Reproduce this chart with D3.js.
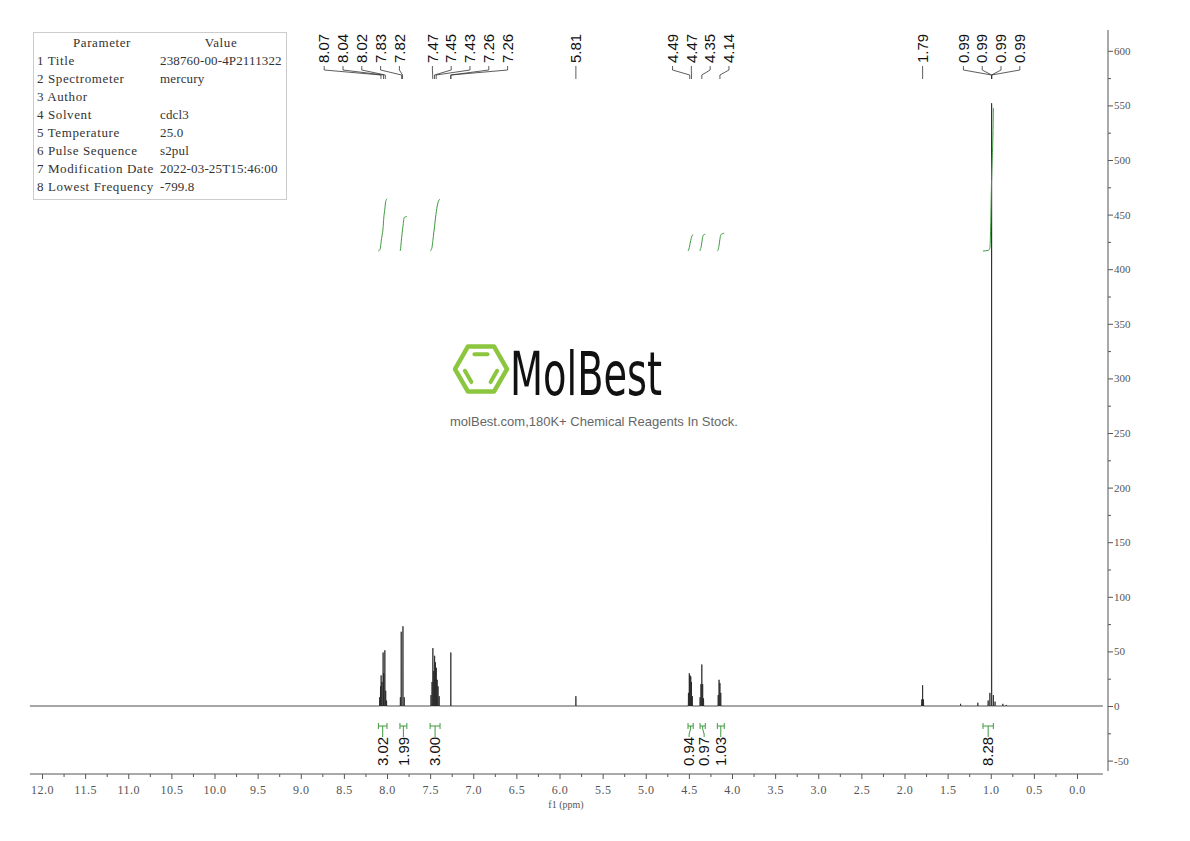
<!DOCTYPE html>
<html>
<head>
<meta charset="utf-8">
<script src="https://cdn.jsdelivr.net/npm/d3@7"></script>
<style>
body { margin: 0; background: #fff; }
svg { display: block; }
</style>
</head>
<body>
<div id="chart"></div>
<script>
// peak list: position (ppm) and intensity
var peakPpm = [
	8.085, 8.075, 8.068, 8.058, 8.045, 8.038, 8.025, 8.015, 8.005,
	7.845, 7.835, 7.815, 7.800,
	7.490, 7.478, 7.468, 7.458, 7.448, 7.438, 7.428, 7.418, 7.408, 7.395,
	7.26,
	5.81,
	4.505, 4.495, 4.487, 4.478, 4.470, 4.460,
	4.370, 4.360, 4.350, 4.340, 4.330,
	4.160, 4.150, 4.140, 4.130,
	1.80, 1.79, 1.78,
	1.35, 1.15, 1.03, 1.01, 0.99, 0.97, 0.95, 0.86, 0.82
];
var peakHeight = [
	8, 18, 28, 22, 49, 30, 51, 14, 5,
	8, 68, 73, 8,
	10, 22, 53, 32, 46, 40, 35, 24, 18, 9,
	49,
	9,
	12, 30, 28, 27, 22, 9,
	8, 20, 38, 20, 7,
	10, 24, 21, 12,
	6, 19, 6,
	2, 3, 5, 12, 552, 10, 4, 2, 1
];

// peak picking labels and which bracket they share
var labelText = ["8.07", "8.04", "8.02", "7.83", "7.82",
	"7.47", "7.45", "7.43", "7.26", "7.26",
	"5.81",
	"4.49", "4.47", "4.35", "4.14",
	"1.79",
	"0.99", "0.99", "0.99", "0.99"];
var labelGroup = [0, 0, 0, 0, 0, 1, 1, 1, 1, 1, 2, 3, 3, 3, 3, 4, 5, 5, 5, 5];

// integration regions
var intStart = [8.10, 7.85, 7.50, 4.51, 4.37, 4.17, 1.09];
var intEnd = [8.00, 7.77, 7.385, 4.45, 4.31, 4.09, 0.97];
var intValue = ["3.02", "1.99", "3.00", "0.94", "0.97", "1.03", "8.28"];

// axis ticks
var xMajor = d3.range(0, 12.01, 0.5);
var xMinor = d3.range(0.25, 12.2, 0.5);
var yMajor = d3.range(-50, 601, 50);
var yMinor = d3.range(-25, 601, 50);

// parameter table
var paramNames = ["1 Title", "2 Spectrometer", "3 Author", "4 Solvent", "5 Temperature",
	"6 Pulse Sequence", "7 Modification Date", "8 Lowest Frequency"];
var paramValues = ["238760-00-4P2111322", "mercury", "", "cdcl3", "25.0",
	"s2pul", "2022-03-25T15:46:00", "-799.8"];

var W = 1190, H = 841;
var serif = "'Liberation Serif', 'DejaVu Serif', serif";
var sans = "'Liberation Sans', Arial, sans-serif";

var svg = d3.select("#chart").append("svg")
	.attr("width", W)
	.attr("height", H);

var x = d3.scaleLinear().domain([12, 0]).range([42, 1077]);
var y = d3.scaleLinear().domain([0, 600]).range([706, 50.8]);
var yInt = d3.scaleLinear().domain([0, 10]).range([251, 78]);

var xLeft = x(12.14), xRight = x(-0.30);
var axisY = 774, axisX = 1108;

// ---- bottom axis
var gx = svg.append("g").attr("transform", "translate(0," + axisY + ")");
gx.append("line")
	.attr("x1", xLeft).attr("x2", xRight)
	.attr("stroke", "#555");
gx.append("g")
	.call(d3.axisBottom(x).tickValues(xMajor).tickFormat(d3.format(".1f")).tickSize(5).tickPadding(6))
	.call(function(g) { g.select(".domain").remove(); });
gx.append("g")
	.call(d3.axisBottom(x).tickValues(xMinor).tickFormat("").tickSize(3))
	.call(function(g) { g.select(".domain").remove(); });
gx.selectAll(".tick line").attr("stroke", "#555");
gx.selectAll(".tick text")
	.attr("fill", "#555")
	.style("font-family", serif)
	.style("font-size", "12px")
	.style("letter-spacing", "0.5px");
svg.append("text")
	.attr("x", 566).attr("y", 808)
	.attr("text-anchor", "middle")
	.attr("fill", "#555")
	.style("font-family", serif)
	.style("font-size", "10px")
	.text("f1 (ppm)");

// ---- right axis
var gy = svg.append("g").attr("transform", "translate(" + axisX + ",0)");
gy.append("line")
	.attr("y1", y(-59.5)).attr("y2", y(619))
	.attr("stroke", "#555");
gy.append("g")
	.call(d3.axisRight(y).tickValues(yMajor).tickFormat(function(d) { return String(d); }).tickSize(5).tickPadding(1))
	.call(function(g) { g.select(".domain").remove(); });
gy.append("g")
	.call(d3.axisRight(y).tickValues(yMinor).tickFormat("").tickSize(3))
	.call(function(g) { g.select(".domain").remove(); });
gy.selectAll(".tick line").attr("stroke", "#555");
gy.selectAll(".tick text")
	.attr("fill", "#555")
	.style("font-family", serif)
	.style("font-size", "11px");

// ---- spectrum: each line drawn as a narrow spike on the baseline
var hw = 0.002;
var order = d3.range(peakPpm.length).sort(function(a, b) { return peakPpm[b] - peakPpm[a]; });
var spec = [[12.14, 0]];
order.forEach(function(i) {
	spec.push([peakPpm[i] + hw, 0]);
	spec.push([peakPpm[i], peakHeight[i]]);
	spec.push([peakPpm[i] - hw, 0]);
});
spec.push([-0.30, 0]);

svg.append("path")
	.datum(spec)
	.attr("fill", "none")
	.attr("stroke", "#222")
	.attr("stroke-width", 0.8)
	.attr("d", d3.line().x(function(d) { return x(d[0]); }).y(function(d) { return y(d[1]); }));

// ---- integral curves and brackets
var green = "#3f9a3f";
var intLabelX = intValue.map(function(v, i) { return x((intStart[i] + intEnd[i]) / 2); });
// keep the rotated integral labels apart
for (var pass = 0; pass < 10; pass++) {
	for (var k = 0; k < intLabelX.length - 1; k++) {
		var gap = intLabelX[k + 1] - intLabelX[k];
		if (gap < 15) {
			intLabelX[k] -= (15 - gap) / 2;
			intLabelX[k + 1] += (15 - gap) / 2;
		}
	}
}

intValue.forEach(function(v, i) {
	var inside = order.filter(function(j) { return peakPpm[j] <= intStart[i] && peakPpm[j] >= intEnd[i]; });
	var total = d3.sum(inside, function(j) { return peakHeight[j]; });
	var cum = 0, pts = [[x(intStart[i]), 0]];
	inside.forEach(function(j) {
		pts.push([x(peakPpm[j]), (cum + peakHeight[j] / 2) / total]);
		cum += peakHeight[j];
	});
	pts.push([x(intEnd[i]), 1]);
	svg.append("path")
		.datum(pts)
		.attr("fill", "none")
		.attr("stroke", green)
		.attr("stroke-width", 1)
		.attr("d", d3.line().curve(d3.curveMonotoneX)
			.x(function(d) { return d[0]; })
			.y(function(d) { return yInt(d[1] * +v); }));

	var x0 = x(intStart[i]), x1 = x(intEnd[i]), cx = (x0 + x1) / 2, lx = intLabelX[i];
	svg.append("path")
		.attr("fill", "none")
		.attr("stroke", green)
		.attr("stroke-width", 1)
		.attr("d", "M" + x0 + ",726H" + x1 +
			"M" + x0 + ",723V729M" + x1 + ",723V729" +
			"M" + cx + ",726V729L" + lx + ",734V737");
	svg.append("text")
		.attr("transform", "translate(" + lx + ",766) rotate(-90)")
		.attr("dy", "0.35em")
		.attr("fill", "#111")
		.style("font-family", sans)
		.style("font-size", "15px")
		.text(v);
});

// ---- peak labels along the top
var step = 18.8, minGap = 33;
var groups = d3.groups(d3.range(labelText.length), function(i) { return labelGroup[i]; });
groups.forEach(function(g) {
	var idx = g[1];
	var c = d3.mean(idx, function(i) { return x(+labelText[i]); });
	g.pos = idx.map(function(i, k) { return c + (k - (idx.length - 1) / 2) * step; });
});
for (var p2 = 0; p2 < 10; p2++) {
	for (var k2 = 0; k2 < groups.length - 1; k2++) {
		var a = groups[k2], b = groups[k2 + 1];
		var d = b.pos[0] - a.pos[a.pos.length - 1];
		if (d < minGap) {
			var s = (minGap - d) / 2;
			a.pos = a.pos.map(function(v) { return v - s; });
			b.pos = b.pos.map(function(v) { return v + s; });
		}
	}
}
groups.forEach(function(g) {
	g[1].forEach(function(i, k) {
		var lx = g.pos[k], px = x(+labelText[i]);
		svg.append("text")
			.attr("transform", "translate(" + lx + ",63) rotate(-90)")
			.attr("dy", "0.35em")
			.attr("fill", "#111")
			.style("font-family", sans)
			.style("font-size", "15px")
			.text(labelText[i]);
		svg.append("path")
			.attr("fill", "none")
			.attr("stroke", "#333")
			.attr("stroke-width", 0.8)
			.attr("d", "M" + lx + ",66V70L" + px + ",75V79");
	});
});

// ---- parameter table
var tbl = svg.append("g")
	.style("font-family", serif)
	.style("font-size", "13px")
	.attr("fill", "#333");
tbl.append("rect")
	.attr("x", 33.5).attr("y", 32.5).attr("width", 253).attr("height", 167)
	.attr("fill", "none").attr("stroke", "#ccc");
tbl.append("text").attr("x", 102).attr("y", 47).attr("text-anchor", "middle").style("letter-spacing", "0.6px").text("Parameter");
tbl.append("text").attr("x", 221).attr("y", 47).attr("text-anchor", "middle").style("letter-spacing", "0.6px").text("Value");
tbl.selectAll(".pn").data(paramNames).enter().append("text")
	.attr("x", 37).attr("y", function(d, i) { return 65 + i * 18; })
	.style("letter-spacing", "0.6px")
	.text(function(d) { return d; });
tbl.selectAll(".pv").data(paramValues).enter().append("text")
	.attr("x", 160).attr("y", function(d, i) { return 65 + i * 18; })
	.style("letter-spacing", "0.15px")
	.text(function(d) { return d; });

// ---- watermark
var logo = svg.append("g");
var cx0 = 481, cy0 = 369, R = 26;
var hex = d3.range(7).map(function(k) {
	var t = k * Math.PI / 3;
	return [cx0 + R * Math.cos(t), cy0 + R * Math.sin(t)];
});
logo.append("path")
	.attr("d", d3.line()(hex) + "Z")
	.attr("fill", "none")
	.attr("stroke", "#8cc63f")
	.attr("stroke-width", 4.5)
	.attr("stroke-linejoin", "round");
[[4, 5], [0, 1], [2, 3]].forEach(function(e) {
	var r = R * 0.66, t0 = e[0] * Math.PI / 3, t1 = e[1] * Math.PI / 3;
	var p0 = [cx0 + r * Math.cos(t0), cy0 + r * Math.sin(t0)];
	var p1 = [cx0 + r * Math.cos(t1), cy0 + r * Math.sin(t1)];
	var m = 0.12;
	logo.append("line")
		.attr("x1", p0[0] + (p1[0] - p0[0]) * m).attr("y1", p0[1] + (p1[1] - p0[1]) * m)
		.attr("x2", p1[0] - (p1[0] - p0[0]) * m).attr("y2", p1[1] - (p1[1] - p0[1]) * m)
		.attr("stroke", "#8cc63f")
		.attr("stroke-width", 4)
		.attr("stroke-linecap", "round");
});
logo.append("text")
	.attr("x", 510).attr("y", 395)
	.attr("textLength", 152)
	.attr("lengthAdjust", "spacingAndGlyphs")
	.attr("fill", "#111")
	.style("font-family", "'DejaVu Sans Condensed', 'DejaVu Sans', sans-serif")
	.style("font-size", "60px")
	.text("MolBest");
logo.append("text")
	.attr("x", 594).attr("y", 426)
	.attr("text-anchor", "middle")
	.attr("fill", "#666")
	.style("font-family", sans)
	.style("font-size", "13px")
	.text("molBest.com,180K+ Chemical Reagents In Stock.");
</script>
</body>
</html>
